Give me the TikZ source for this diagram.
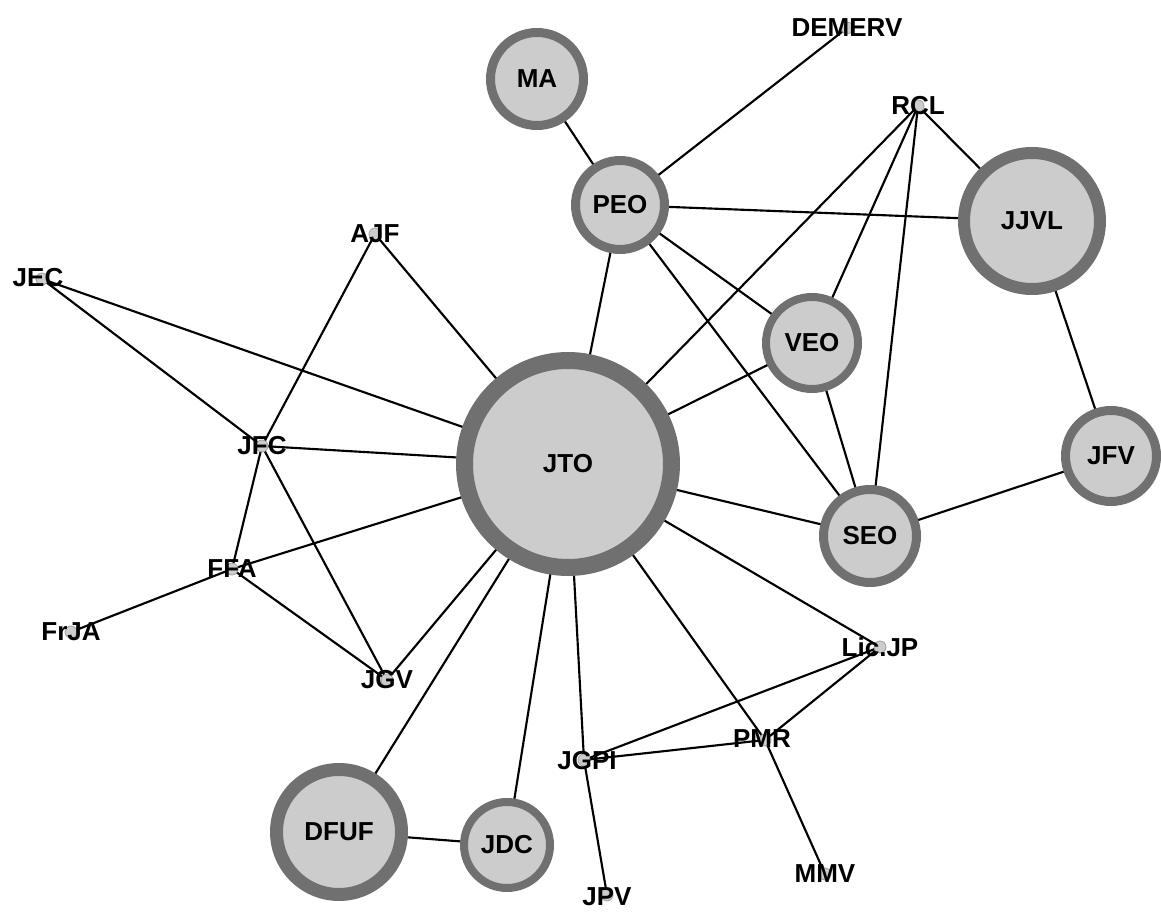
\documentclass[tikz,border=0pt]{standalone}
\usepackage{fontspec}
\setmainfont{Liberation Sans}
\definecolor{disc}{RGB}{204,204,204}
\definecolor{ring}{RGB}{112,112,112}
\definecolor{dotfill}{RGB}{205,205,205}
\definecolor{dotring}{RGB}{160,160,160}
\pgfdeclarelayer{links}
\pgfsetlayers{links,main}
\begin{document}
\begin{tikzpicture}[x=0.75pt,y=-0.75pt,
  labelfont/.style={font=\bfseries\fontsize{19.5}{20}\selectfont},
  hub/.style 2 args={circle, draw=ring, fill=disc, minimum size=#1pt,
    line width=#2pt, inner sep=0pt, labelfont},
  dot/.style={circle, draw=dotring, fill=dotfill, minimum size=9pt,
    inner sep=0pt, line width=0.6pt},
  tag/.style={inner sep=0pt, labelfont},
  link/.style={line width=1.6pt, black}]
\useasboundingbox (0,0) rectangle (1161,912);

% large weighted nodes
\node[hub={155.25}{12.75}] (jto)  at (568,464) {JTO};
\node[hub={69.75}{6.75}]   (ma)   at (537,79)  {MA};
\node[hub={66.75}{6.75}]   (peo)  at (620,205) {PEO};
\node[hub={102}{9}]        (jjvl) at (1032,221) {JJVL};
\node[hub={69}{6}]         (veo)  at (812,343) {VEO};
\node[hub={69.75}{6.75}]   (seo)  at (870,536) {SEO};
\node[hub={68.25}{6.75}]   (jfv)  at (1111,456) {JFV};
\node[hub={93.75}{9.75}]   (dfuf) at (339,832) {DFUF};
\node[hub={64.5}{6}]       (jdc)  at (507,845) {JDC};

% small nodes: a dot with its label on top
\node[dot] (demerv) at (847,28)  {};
\node[dot] (rcl)    at (918,106) {};
\node[dot] (ajf)    at (375,234) {};
\node[dot] (jec)    at (42,279)  {};
\node[dot] (jfc)    at (262,446) {};
\node[dot] (ffa)    at (232,569) {};
\node[dot] (frja)   at (71,632)  {};
\node[dot] (jgv)    at (387,680) {};
\node[dot] (licjp)  at (880,647) {};
\node[dot] (pmr)    at (765,740) {};
\node[dot] (jgpi)   at (584,760) {};
\node[dot] (jpv)    at (607,895) {};
\node[dot] (mmv)    at (825,874) {};

\node[tag] (demerv-t) at (demerv) {DEMERV};
\node[tag] (rcl-t)    at (rcl)    {RCL};
\node[tag] (ajf-t)    at (ajf)    {AJF};
\node[tag] (jec-t)    at (38,278) {JEC};
\node[tag] (jfc-t)    at (jfc)    {JFC};
\node[tag] (ffa-t)    at (ffa)    {FFA};
\node[tag] (frja-t)   at (frja)   {FrJA};
\node[tag] (jgv-t)    at (jgv)    {JGV};
\node[tag] (licjp-t)  at (licjp)  {Lic.JP};
\node[tag] (pmr-t)    at (762,739) {PMR};
\node[tag] (jgpi-t)   at (587,761) {JGPI};
\node[tag] (jpv-t)    at (607,897) {JPV};
\node[tag] (mmv-t)    at (mmv)    {MMV};

% connections, drawn beneath the nodes
\begin{pgfonlayer}{links}
\foreach \a/\b in {ma/peo, peo/demerv, peo/jjvl, peo/veo, peo/seo, peo/jto,
    rcl/jjvl, rcl/jto, rcl/veo, rcl/seo, jjvl/jfv, jfv/seo, veo/seo, veo/jto,
    jto/seo, jto/licjp, jto/pmr, pmr/mmv, licjp/jgpi, licjp/pmr, jgpi/pmr,
    jto/jgpi, jgpi/jpv, jto/jdc, jto/dfuf, dfuf/jdc, jto/jgv, jto/ffa,
    jto/jfc, jto/jec, jto/ajf, jfc/jec, jfc/ajf, jfc/ffa, jfc/jgv,
    ffa/frja, ffa/jgv}
  \draw[link] (\a.center) -- (\b.center);
\end{pgfonlayer}
\end{tikzpicture}
\end{document}
